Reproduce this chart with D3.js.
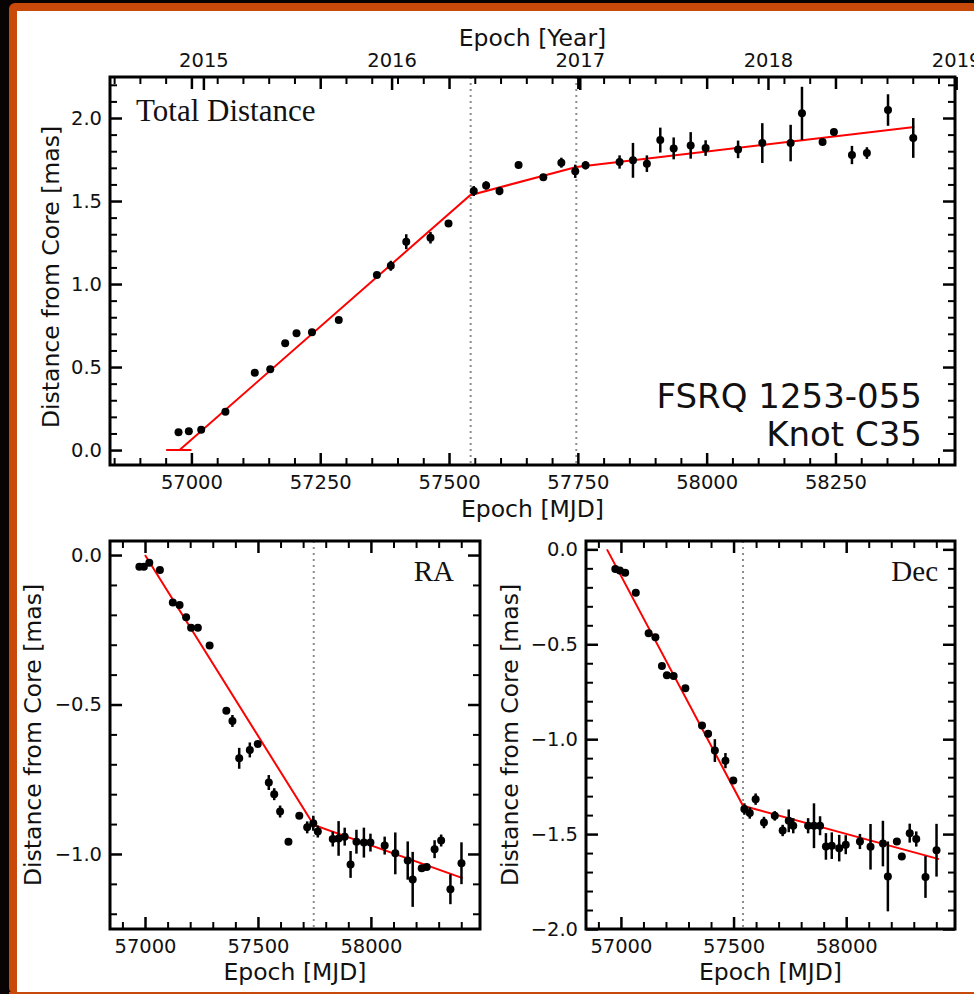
<!DOCTYPE html>
<html>
<head>
<meta charset="utf-8">
<script src="https://cdn.jsdelivr.net/npm/d3@7"></script>
<style>
  body { margin: 0; background: #080404; }
  svg { display: block; }
  .tick text { font-family: "DejaVu Sans", sans-serif; font-size: 19.5px; fill: #111; }
  .label { font-family: "DejaVu Sans", sans-serif; font-size: 23.5px; fill: #111; }
  .serif { font-family: "Liberation Serif", "Times New Roman", serif; fill: #111; }
</style>
</head>
<body>
<svg id="fig" width="974" height="994"></svg>
<script>
// observing epochs (MJD), shared by all three panels
const epochs = [56975, 56995, 57019, 57066, 57123, 57153, 57182, 57204, 57234, 57286,
  57360, 57387, 57417, 57464, 57499, 57548, 57572, 57598, 57635, 57683,
  57718, 57745, 57765, 57831, 57857, 57884, 57910, 57936, 57969, 57998,
  58061, 58108, 58163, 58185, 58225, 58247, 58282, 58311, 58352, 58401];

const totalDist = [0.107, 0.114, 0.122, 0.231, 0.466, 0.486, 0.643, 0.703, 0.709, 0.783,
  1.054, 1.11, 1.255, 1.279, 1.365, 1.56, 1.594, 1.56, 1.717, 1.643,
  1.731, 1.679, 1.715, 1.735, 1.745, 1.725, 1.867, 1.817, 1.835, 1.819,
  1.811, 1.849, 1.849, 2.028, 1.855, 1.916, 1.777, 1.789, 2.048, 1.88];
const totalErr = [0.01, 0.01, 0.01, 0.01, 0.01, 0.01, 0.01, 0.01, 0.01, 0.01,
  0.01, 0.03, 0.045, 0.035, 0.01, 0.03, 0.025, 0.025, 0.015, 0.01,
  0.03, 0.04, 0.025, 0.04, 0.105, 0.05, 0.075, 0.066, 0.08, 0.047,
  0.053, 0.12, 0.11, 0.16, 0.01, 0.01, 0.055, 0.035, 0.095, 0.12];

const raDist = [-0.039, -0.039, -0.026, -0.05, -0.159, -0.167, -0.208, -0.243, -0.243, -0.303,
  -0.521, -0.555, -0.68, -0.652, -0.632, -0.761, -0.8, -0.858, -0.959, -0.872,
  -0.911, -0.897, -0.925, -0.95, -0.948, -0.942, -1.035, -0.959, -0.962, -0.962,
  -0.972, -0.998, -1.022, -1.085, -1.048, -1.044, -0.984, -0.955, -1.118, -1.031];
const raErr = [0.005, 0.005, 0.005, 0.005, 0.005, 0.005, 0.005, 0.005, 0.005, 0.005,
  0.005, 0.02, 0.035, 0.025, 0.01, 0.025, 0.02, 0.02, 0.01, 0.01,
  0.02, 0.025, 0.02, 0.025, 0.058, 0.03, 0.045, 0.04, 0.05, 0.03,
  0.03, 0.07, 0.064, 0.092, 0.01, 0.01, 0.03, 0.02, 0.05, 0.07];

const decDist = [-0.104, -0.112, -0.123, -0.228, -0.442, -0.463, -0.614, -0.663, -0.667, -0.732,
  -0.928, -0.972, -1.06, -1.113, -1.218, -1.368, -1.389, -1.316, -1.439, -1.404,
  -1.481, -1.43, -1.456, -1.456, -1.456, -1.456, -1.565, -1.561, -1.574, -1.556,
  -1.539, -1.567, -1.55, -1.723, -1.539, -1.618, -1.495, -1.526, -1.726, -1.585];
const decErr = [0.01, 0.01, 0.01, 0.01, 0.01, 0.01, 0.01, 0.01, 0.01, 0.01,
  0.01, 0.02, 0.06, 0.04, 0.01, 0.03, 0.03, 0.03, 0.03, 0.025,
  0.03, 0.06, 0.04, 0.04, 0.118, 0.05, 0.07, 0.07, 0.07, 0.05,
  0.04, 0.12, 0.12, 0.184, 0.01, 0.01, 0.05, 0.04, 0.11, 0.139];

// piecewise linear fits [MJD, mas]
const fitTotal = [[56951, 0], [57000, 0], [56977, 0], [57541, 1.535], [57747, 1.705], [58403, 1.946]];
const fitRA = [[57000, 0], [57747, -0.903], [58406, -1.081]];
const fitDec = [[56938, 0], [57542, -1.351], [58412, -1.632]];

// break epochs (dotted lines)
const breakTotal = [57542, 57747];
const breakRA = [57747];
const breakDec = [57542];

const yearTicks = [2015, 2016, 2017, 2018, 2019];

function yearToMJD(yr) { return 51544.5 + (yr - 2000) * 365.25 }
function steps(a, b, s) { return d3.range(Math.round(a / s), Math.round(b / s) + 1).map(k => +(k * s).toFixed(3)) }
function notIn(list, maj) { return list.filter(v => !maj.some(m => Math.abs(m - v) < 1e-6)) }

const svg = d3.select("#fig");

// page background: orange frame with white sheet
svg.append("rect").attr("x", 9).attr("y", 3).attr("width", 990).attr("height", 991)
  .attr("rx", 6).attr("fill", "#c8490a");
svg.append("rect").attr("x", 17).attr("y", 11).attr("width", 970).attr("height", 981)
  .attr("fill", "white");

function panel(cfg) {
    let x = d3.scaleLinear().domain(cfg.xDomain).range([cfg.left, cfg.right]);
    let y = d3.scaleLinear().domain(cfg.yDomain).range([cfg.bottom, cfg.top]);
    let g = svg.append("g");

    // dotted break lines
    g.selectAll(".brk")
        .data(cfg.breaks)
        .enter()
        .append("line")
        .attr("x1", d => x(d)).attr("x2", d => x(d))
        .attr("y1", cfg.top).attr("y2", cfg.bottom)
        .attr("stroke", "#8c8c8c")
        .attr("stroke-width", 2)
        .attr("stroke-dasharray", "2,4");

    // fit
    g.append("path")
        .datum(cfg.fit)
        .attr("d", d3.line().x(d => x(d[0])).y(d => y(d[1])))
        .attr("fill", "none")
        .attr("stroke", "#ff0000")
        .attr("stroke-width", 2);

    // error bars
    g.selectAll(".err")
        .data(epochs)
        .enter()
        .append("line")
        .attr("x1", d => x(d)).attr("x2", d => x(d))
        .attr("y1", (d, i) => y(cfg.vals[i] - cfg.errs[i]))
        .attr("y2", (d, i) => y(cfg.vals[i] + cfg.errs[i]))
        .attr("stroke", "black")
        .attr("stroke-width", 2.5);

    g.selectAll(".dot")
        .data(epochs)
        .enter()
        .append("circle")
        .attr("cx", d => x(d))
        .attr("cy", (d, i) => y(cfg.vals[i]))
        .attr("r", 4)
        .attr("fill", "black");

    // ticks, all pointing inward
    function addAxis(axis, tx, ty, w) {
        let a = g.append("g").attr("transform", `translate(${tx},${ty})`).call(axis);
        a.select(".domain").remove();
        a.selectAll("line").attr("stroke", "black").attr("stroke-width", w);
        return a;
    }
    let xMinor = notIn(cfg.xMinor, cfg.xMajor);
    let yMinor = notIn(cfg.yMinor, cfg.yMajor);

    addAxis(d3.axisBottom(x).tickValues(cfg.xMajor).tickSize(-12).tickPadding(10).tickFormat(d3.format("d")), 0, cfg.bottom, 2.5);
    addAxis(d3.axisBottom(x).tickValues(xMinor).tickSize(-7).tickFormat(""), 0, cfg.bottom, 2);
    addAxis(d3.axisTop(x).tickValues(cfg.xMajor).tickSize(-12).tickFormat(""), 0, cfg.top, 2.5);
    addAxis(d3.axisTop(x).tickValues(xMinor).tickSize(-7).tickFormat(""), 0, cfg.top, 2);

    addAxis(d3.axisLeft(y).tickValues(cfg.yMajor).tickSize(-12).tickPadding(8).tickFormat(d3.format(".1f")), cfg.left, 0, 2.5);
    addAxis(d3.axisLeft(y).tickValues(yMinor).tickSize(-7).tickFormat(""), cfg.left, 0, 2);
    addAxis(d3.axisRight(y).tickValues(cfg.yMajor).tickSize(-12).tickFormat(""), cfg.right, 0, 2.5);
    addAxis(d3.axisRight(y).tickValues(yMinor).tickSize(-7).tickFormat(""), cfg.right, 0, 2);

    if (cfg.years) {
        addAxis(d3.axisTop(x).tickValues(cfg.years.map(yearToMJD)).tickSize(-13).tickPadding(10)
            .tickFormat((d, i) => cfg.years[i]), 0, cfg.top, 2.5);
        g.append("text").attr("class", "label")
            .attr("x", (cfg.left + cfg.right) / 2).attr("y", cfg.top - 31)
            .attr("text-anchor", "middle")
            .text("Epoch [Year]");
    }

    // frame
    g.append("rect")
        .attr("x", cfg.left).attr("y", cfg.top)
        .attr("width", cfg.right - cfg.left).attr("height", cfg.bottom - cfg.top)
        .attr("fill", "none").attr("stroke", "black").attr("stroke-width", 3);

    // labels
    g.append("text").attr("class", "label")
        .attr("x", (cfg.left + cfg.right) / 2).attr("y", cfg.bottom + cfg.xLabelGap)
        .attr("text-anchor", "middle")
        .text("Epoch [MJD]");
    g.append("text").attr("class", "label")
        .attr("transform", `translate(${cfg.yLabelX},${cfg.yLabelY}) rotate(-90)`)
        .attr("text-anchor", "middle")
        .text("Distance from Core [mas]");

    return {x: x, y: y, g: g};
}

let totalPanel = panel({
    left: 110, right: 955, top: 77, bottom: 465,
    xDomain: [56842, 58482], yDomain: [-0.09, 2.247],
    xMajor: steps(57000, 58250, 250), xMinor: steps(56850, 58450, 50),
    yMajor: steps(0, 2, 0.5), yMinor: steps(0, 2.2, 0.1),
    vals: totalDist, errs: totalErr, fit: fitTotal, breaks: breakTotal,
    years: yearTicks,
    xLabelGap: 52, yLabelX: 59, yLabelY: 277
});
totalPanel.g.append("text").attr("class", "serif")
    .attr("x", 136).attr("y", 121).style("font-size", "31px")
    .text("Total Distance");
totalPanel.g.append("text")
    .attr("x", 922).attr("y", 408).attr("text-anchor", "end")
    .style("font-family", "'DejaVu Sans', sans-serif").style("font-size", "34px").attr("fill", "#111")
    .text("FSRQ 1253-055");
totalPanel.g.append("text")
    .attr("x", 922).attr("y", 446).attr("text-anchor", "end")
    .style("font-family", "'DejaVu Sans', sans-serif").style("font-size", "34px").attr("fill", "#111")
    .text("Knot C35");

let raPanel = panel({
    left: 110, right: 480, top: 541, bottom: 929,
    xDomain: [56845, 58483], yDomain: [-1.251, 0.047],
    xMajor: [57000, 57500, 58000], xMinor: steps(56900, 58400, 100),
    yMajor: [-1, -0.5, 0], yMinor: steps(-1.2, 0, 0.1),
    vals: raDist, errs: raErr, fit: fitRA, breaks: breakRA,
    xLabelGap: 51, yLabelX: 41, yLabelY: 735
});
raPanel.g.append("text").attr("class", "serif")
    .attr("x", 454).attr("y", 581).attr("text-anchor", "end").style("font-size", "29px")
    .text("RA");

let decPanel = panel({
    left: 586, right: 955, top: 541, bottom: 929,
    xDomain: [56845, 58483], yDomain: [-2.0, 0.044],
    xMajor: [57000, 57500, 58000], xMinor: steps(56900, 58400, 100),
    yMajor: steps(-2, 0, 0.5), yMinor: steps(-2, 0, 0.1),
    vals: decDist, errs: decErr, fit: fitDec, breaks: breakDec,
    xLabelGap: 51, yLabelX: 518, yLabelY: 735
});
decPanel.g.append("text").attr("class", "serif")
    .attr("x", 938).attr("y", 581).attr("text-anchor", "end").style("font-size", "29px")
    .text("Dec");

// thin orange rule along the bottom edge
svg.append("rect").attr("x", 9).attr("y", 992).attr("width", 970).attr("height", 2).attr("fill", "#c8490a");
</script>
</body>
</html>
